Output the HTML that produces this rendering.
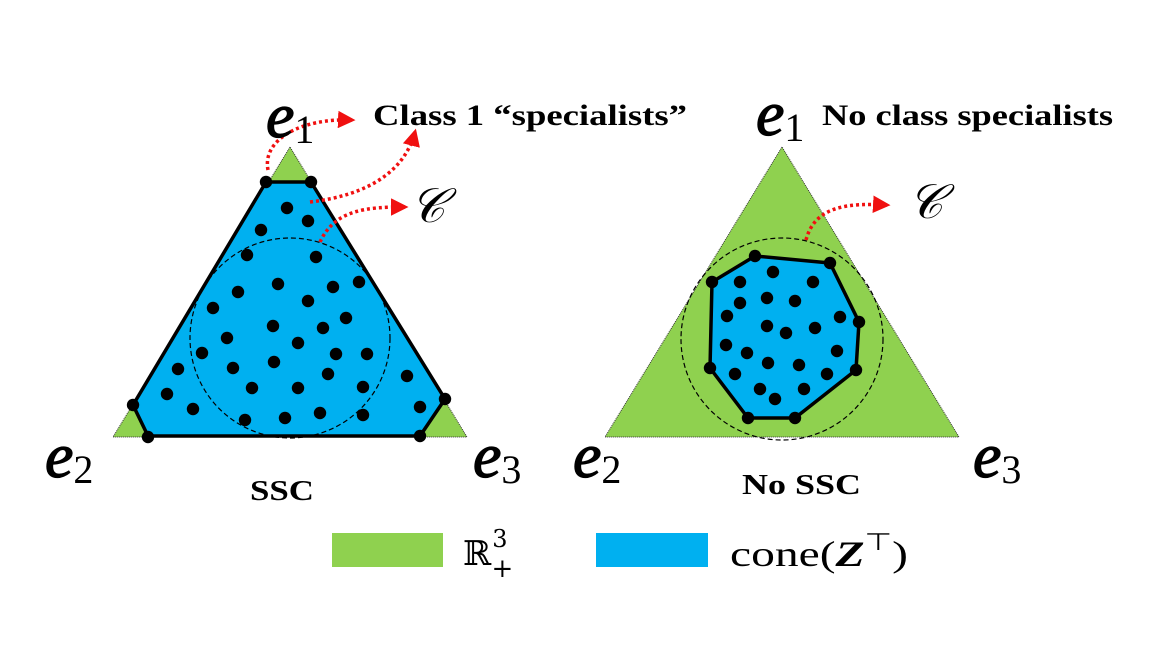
<!DOCTYPE html>
<html><head><meta charset="utf-8"><style>
html,body{margin:0;padding:0;background:#fff;width:1152px;height:648px;overflow:hidden}
svg{display:block}
.lab{font-family:"Liberation Serif",serif;font-style:italic}
.ev{stroke:#000;stroke-width:1.3}
.b{font-family:"Liberation Serif",serif;font-weight:bold}
</style></head><body>
<svg id="fig" width="1152" height="648" viewBox="0 0 1152 648" xmlns="http://www.w3.org/2000/svg">
<defs>
<marker id="ah" viewBox="0 0 10 10" refX="8" refY="5" markerWidth="5" markerHeight="5" orient="auto"><path d="M0,0L10,5L0,10z" fill="#f01010"/></marker>
</defs>
<g id="left">
<polygon points="290,147 113,437 467,437" fill="#8fd14f" stroke="#333" stroke-width="1" stroke-dasharray="1,1"/>
<polygon points="266,182 311,182 445,399 420,436 148,436 133,405" fill="#00b0f0" stroke="#000" stroke-width="3.5" stroke-linejoin="round"/>
<circle cx="290" cy="338" r="100" fill="none" stroke="#000" stroke-width="1.2" stroke-dasharray="5,3"/>
<g id="dotsL"></g>
<path d="M268,170 C262,140 300,118 352,120" fill="none" stroke="#f01010" stroke-width="3.5" stroke-dasharray="3,3" marker-end="url(#ah)"/>
<path d="M310,202 C370,195 405,170 415,132" fill="none" stroke="#f01010" stroke-width="3.5" stroke-dasharray="3,3" marker-end="url(#ah)"/>
<path d="M320,242 C335,210 365,207 405,207" fill="none" stroke="#f01010" stroke-width="3.5" stroke-dasharray="3,3" marker-end="url(#ah)"/>
<text class="lab" x="266" y="137" font-size="64"><tspan class="ev">e</tspan><tspan font-style="normal" font-size="40" dy="6">1</tspan></text>
<text class="lab" x="45" y="477" font-size="64"><tspan class="ev">e</tspan><tspan font-style="normal" font-size="40" dy="6">2</tspan></text>
<text class="lab" x="473" y="477" font-size="64"><tspan class="ev">e</tspan><tspan font-style="normal" font-size="40" dy="6">3</tspan></text>
<text class="b" x="373" y="125" font-size="30" textLength="314" lengthAdjust="spacingAndGlyphs">Class 1 “specialists”</text>
<text class="lab" x="410" y="222" font-size="48" font-family="Liberation Serif">𝒞</text>
<text class="b" x="250" y="500" font-size="29" textLength="64" lengthAdjust="spacingAndGlyphs">SSC</text>
</g>
<g id="right">
<polygon points="782,147 605,437 959,437" fill="#8fd14f" stroke="#333" stroke-width="1" stroke-dasharray="1,1"/>
<circle cx="782" cy="339" r="101" fill="none" stroke="#000" stroke-width="1.2" stroke-dasharray="5,3"/>
<polygon points="755,256 830,263 859,322 856,370 795,418 748,418 710,368 712,282" fill="#00b0f0" stroke="#000" stroke-width="3.5" stroke-linejoin="round"/>
<g id="dotsR"></g>
<path d="M806,240 C815,205 850,203 887,205" fill="none" stroke="#f01010" stroke-width="3.5" stroke-dasharray="3,3" marker-end="url(#ah)"/>
<text class="lab" x="756" y="135" font-size="64"><tspan class="ev">e</tspan><tspan font-style="normal" font-size="40" dy="6">1</tspan></text>
<text class="lab" x="573" y="477" font-size="64"><tspan class="ev">e</tspan><tspan font-style="normal" font-size="40" dy="6">2</tspan></text>
<text class="lab" x="973" y="477" font-size="64"><tspan class="ev">e</tspan><tspan font-style="normal" font-size="40" dy="6">3</tspan></text>
<text class="b" x="822" y="125" font-size="30" textLength="291" lengthAdjust="spacingAndGlyphs">No class specialists</text>
<text class="lab" x="908" y="218" font-size="48" font-family="Liberation Serif">𝒞</text>
<text class="b" x="742" y="494" font-size="29" textLength="119" lengthAdjust="spacingAndGlyphs">No SSC</text>
</g>
<g>
<rect x="332" y="533" width="111" height="34" fill="#8fd14f"/>
<text x="463" y="565" font-family="DejaVu Serif,serif" font-size="34">ℝ<tspan font-size="24" dy="-18" dx="1">3</tspan><tspan font-size="26" dy="30" dx="-16">+</tspan></text>
<rect x="596" y="533" width="112" height="34" fill="#00b0f0"/>
<text x="730" y="566" font-family="Liberation Serif,serif" font-size="36" textLength="178" lengthAdjust="spacingAndGlyphs">cone(<tspan font-style="italic" font-weight="bold">Z</tspan><tspan font-size="24" dy="-16">⊤</tspan><tspan dy="16">)</tspan></text>
</g>
</svg>
<script>
const leftX=[287,308,261,247,316,278,333,359,238,308,213,346,273,323,227,298,202,336,367,233,274,178,328,407,252,298,363,167,193,420,245,285,320,363,266,311,133,148,420,445];
const leftY=[208,221,230,255,257,284,287,282,292,301,308,318,326,328,338,343,353,354,354,368,362,369,374,376,388,388,387,394,409,407,420,418,413,415,182,182,405,437,436,399];
const rightX=[773,740,813,740,767,795,727,840,767,786,815,726,747,837,768,799,735,827,760,804,775,755,830,859,856,795,748,710,712];
const rightY=[272,282,282,303,298,301,316,317,326,333,328,345,353,351,363,365,374,374,389,389,399,256,263,322,370,418,418,368,282];
const NS='http://www.w3.org/2000/svg';
function draw(gid,xs,ys){
  const g=document.getElementById(gid);
  for(let i=0;i<xs.length;i++){
    const c=document.createElementNS(NS,'circle');
    c.setAttribute('cx',xs[i]);c.setAttribute('cy',ys[i]);c.setAttribute('r',6.2);c.setAttribute('fill','#000');
    
    
    g.appendChild(c);
  }
}
draw('dotsL',leftX,leftY);
draw('dotsR',rightX,rightY);
</script>
</body></html>
